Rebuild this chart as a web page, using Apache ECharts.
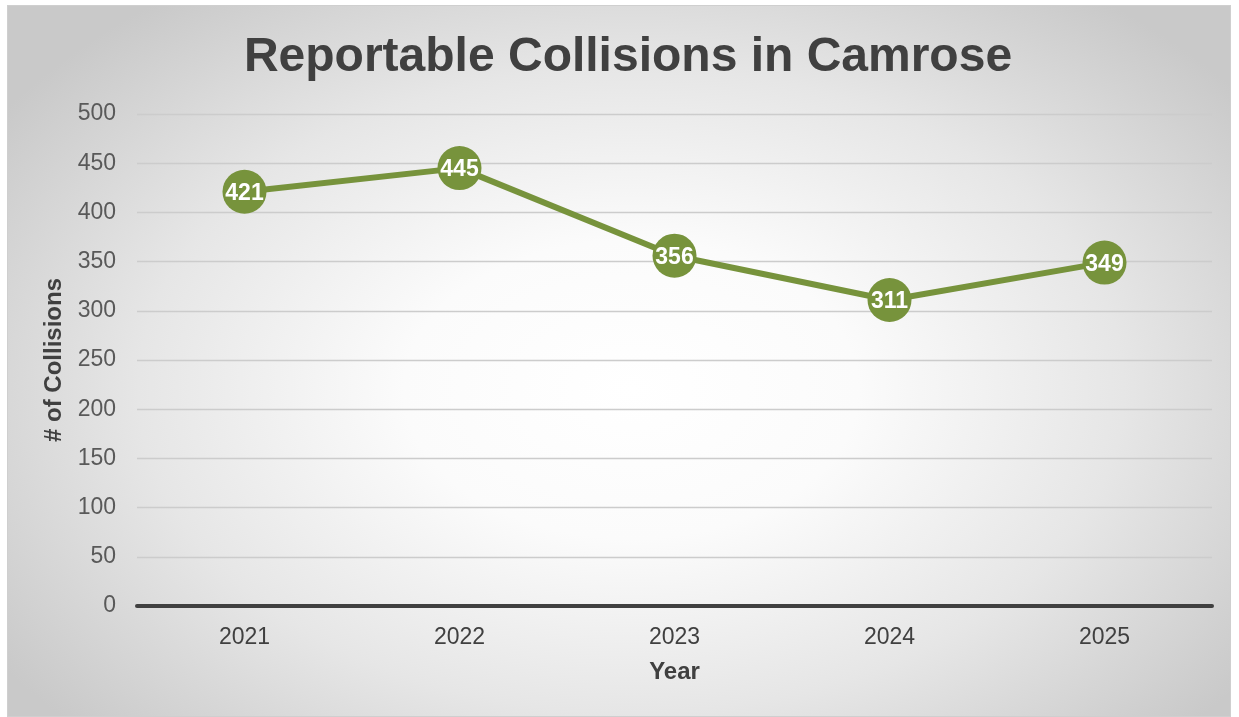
<!DOCTYPE html>
<html>
<head>
<meta charset="utf-8">
<script src="https://cdn.jsdelivr.net/npm/echarts@6/dist/echarts.min.js"></script>
<style>
html,body{margin:0;padding:0;background:#ffffff;width:1239px;height:717px;overflow:hidden;}
#frame{position:absolute;left:7px;top:5px;width:1222px;height:710px;border:1px solid #cfcfcf;
background:radial-gradient(ellipse 62% 70% at 51% 54%, #ffffff 0%, #fbfbfb 30%, #e6e6e6 65%, #c9c9c9 100%);}
#chart{position:absolute;left:0;top:0;width:1239px;height:717px;}
</style>
</head>
<body>
<div id="frame"></div>
<div id="chart"></div>
<script>
var titleText = 'Reportable Collisions in Camrose';
var years = ['2021', '2022', '2023', '2024', '2025'];
var collisions = [421, 445, 356, 311, 349];
var yTicks = [0, 50, 100, 150, 200, 250, 300, 350, 400, 450, 500];
var xAxisName = 'Year';
var yAxisName = '# of Collisions';

var chart = echarts.init(document.getElementById('chart'), null, {renderer: 'canvas'});
var font = 'Liberation Sans, Arial, Helvetica, sans-serif';
chart.setOption({
  backgroundColor: 'transparent',
  textStyle: {fontFamily: font},
  title: {
    text: titleText,
    left: 623,
    textAlign: 'center',
    top: 29,
    textStyle: {fontFamily: font, fontSize: 48, fontWeight: 'bold', color: '#404040'}
  },
  grid: {left: 137, right: 27, top: 114, bottom: 111, containLabel: false},
  xAxis: {
    type: 'category',
    data: years,
    boundaryGap: true,
    name: xAxisName,
    nameLocation: 'middle',
    nameGap: 54,
    nameTextStyle: {fontFamily: font, fontSize: 24, fontWeight: 'bold', color: '#404040'},
    axisLine: {show: true, lineStyle: {color: '#404040', width: 4}},
    axisTick: {show: false},
    axisLabel: {fontFamily: font, fontSize: 23, color: '#404040', margin: 20}
  },
  yAxis: {
    type: 'value',
    min: yTicks[0],
    max: yTicks[yTicks.length - 1],
    interval: 50,
    name: yAxisName,
    nameLocation: 'middle',
    nameGap: 60,
    nameTextStyle: {fontFamily: font, fontSize: 24, fontWeight: 'bold', color: '#404040'},
    axisLine: {show: false},
    axisTick: {show: false},
    axisLabel: {fontFamily: font, fontSize: 23, color: '#595959', margin: 21},
    splitLine: {show: true, lineStyle: {color: '#cccccc', width: 1.3}}
  },
  series: [{
    type: 'line',
    data: collisions,
    symbol: 'circle',
    symbolSize: 44,
    lineStyle: {color: '#77933C', width: 6},
    itemStyle: {color: '#77933C', borderWidth: 0},
    label: {
      show: true,
      position: 'inside',
      color: '#ffffff',
      fontFamily: font,
      fontSize: 23,
      fontWeight: 'bold',
      offset: [0, 2]
    },
    emphasis: {disabled: true},
    animation: false,
    z: 3
  }]
});
</script>
</body>
</html>
